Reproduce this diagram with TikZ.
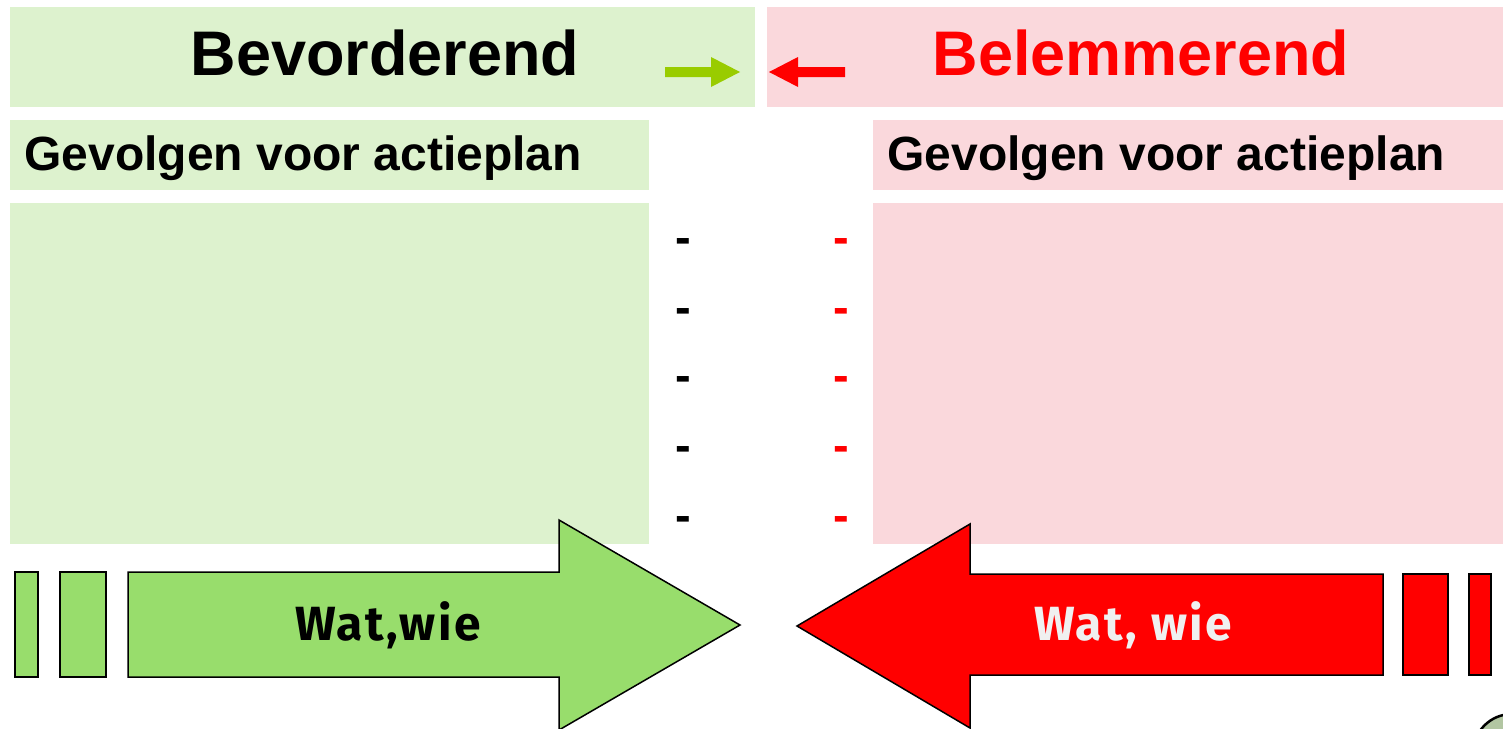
\documentclass[tikz,border=0pt]{standalone}
\usepackage{fontspec}
\setmainfont{Liberation Sans}
\newfontfamily\watfont[LetterSpace=5]{Fira Sans}
\usetikzlibrary{positioning}

\definecolor{lichtgroen}{RGB}{221,242,206}
\definecolor{lichtrood}{RGB}{250,216,220}
\definecolor{pijlgroen}{RGB}{152,221,108}
\definecolor{kopgroen}{RGB}{153,204,0}
\definecolor{knopgroen}{RGB}{178,198,162}

\tikzset{
  kop/.style={anchor=base, font=\fontsize{63}{63}\selectfont\bfseries},
  gevolg/.style={anchor=base west, font=\fontsize{48}{48}\selectfont\bfseries},
  streep/.style={anchor=base, font=\fontsize{47}{47}\selectfont\bfseries},
  wat/.style={anchor=base, font=\fontsize{48}{48}\selectfont\watfont\bfseries},
  blok/.style={draw=black, line width=1.5pt}
}

\begin{document}
\begin{tikzpicture}[x=1pt,y=-1pt]
            \useasboundingbox (0,0) rectangle (1503,728);

            % Background panels
            \fill [lichtgroen] (10,7) rectangle (755,107);
            \fill [lichtrood] (767,7) rectangle (1503,107);
            \fill [lichtgroen] (10,120) rectangle (649,190);
            \fill [lichtrood] (873,120) rectangle (1503,190);
            \fill [lichtgroen] (10,203) rectangle (649,544);
            \fill [lichtrood] (873,203) rectangle (1503,544);

            % Headings
            \node [kop] (bev) at (385,75) {Bevorderend};
            \node [kop, text=red] (bel) at (1141,75) {Belemmerend};
            \node [gevolg] (gevL) at (21,170) {Gevolgen voor actieplan};
            \node [gevolg] (gevR) at (884,170) {Gevolgen voor actieplan};

            % Small arrows next to the headings
            \fill [kopgroen] (665,67) -- (711,67) -- (711,57) -- (740,72)
                -- (711,87) -- (711,77) -- (665,77) -- cycle;
            \fill [red] (845,67) -- (798,67) -- (798,57) -- (769,72)
                -- (798,87) -- (798,77) -- (845,77) -- cycle;

            % Dashes between the panels
            \foreach \y [count=\i] in {240,310,378,448,518} {
                \node [streep] (sl\i) at (683,\y+13) {-};
                \node [streep, text=red] (sr\i) at (841,\y+13) {-};
            }

            % Big arrows
            \foreach \a/\b in {15/38, 60/106} {
                \filldraw [blok, fill=pijlgroen] (\a,572) rectangle (\b,677);
            }
            \filldraw [blok, fill=pijlgroen] (128,572) -- (559,572) -- (559,520)
                -- (740,625) -- (559,730) -- (559,677) -- (128,677) -- cycle;
            \node [wat] (watL) at (388,640) {Wat,wie};

            \foreach \a/\b in {1403/1448, 1469/1491} {
                \filldraw [blok, fill=red] (\a,574) rectangle (\b,675);
            }
            \filldraw [blok, fill=red] (1383,574) -- (970,574) -- (970,524)
                -- (797,626) -- (970,728) -- (970,675) -- (1383,675) -- cycle;
            \node [wat, text={rgb,255:red,240;green,240;blue,240}] (watR) at (1133,640) {Wat, wie};

            % Corner button
            \filldraw [fill=knopgroen, draw=black, line width=2.5pt] (1512,753) circle (39);

        \end{tikzpicture}
\end{document}
